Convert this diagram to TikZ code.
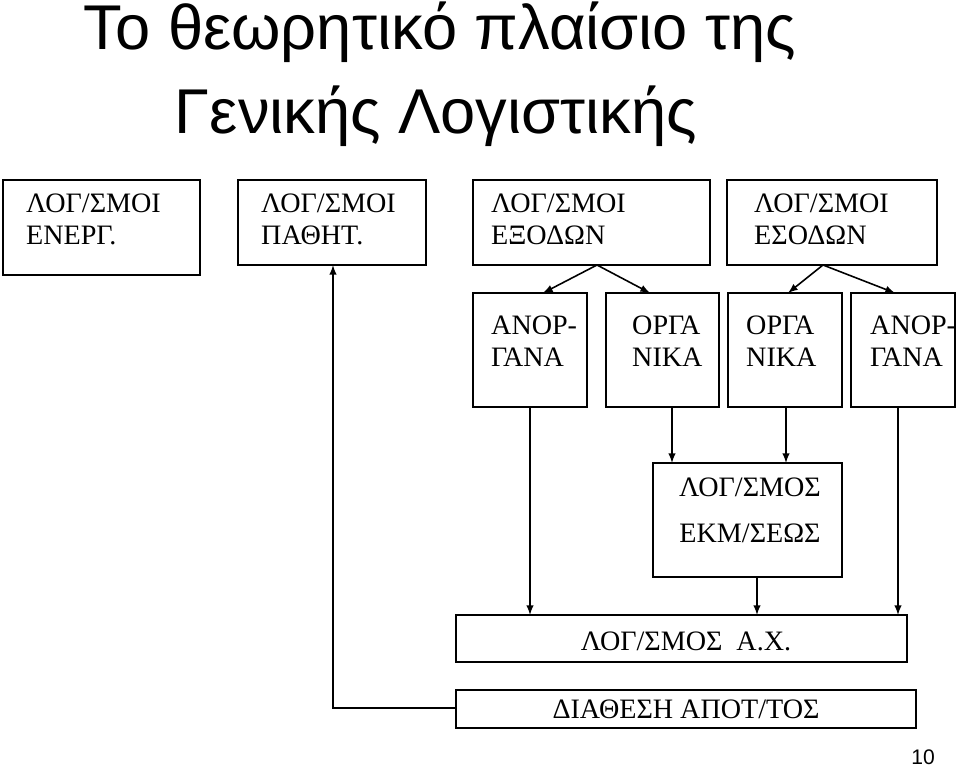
\documentclass[tikz,border=0pt]{standalone}
\usepackage{fontspec}
\setmainfont{Liberation Serif}
\newfontfamily\titlefont{Liberation Sans}
\usetikzlibrary{positioning}
\tikzset{
  acc/.style={draw,line width=0.9pt,inner sep=0pt},
  lbl/.style={font=\fontsize{16}{18}\selectfont,align=left,anchor=north west},
  flow/.style={line width=0.9pt,-latex}
}
\begin{document}
\begin{tikzpicture}[x=0.02cm,y=-0.02cm]
\useasboundingbox (0,0) rectangle (960,767);

\node[font=\titlefont\fontsize{36}{40}\selectfont] (t1) at (440,32) {Το θεωρητικό πλαίσιο της};
\node[font=\titlefont\fontsize{36}{40}\selectfont] (t2) at (436,116) {Γενικής Λογιστικής};

% top row
\draw[acc] (3,180) rectangle (200,275) coordinate (bA);
\node[lbl] at (20,188) {ΛΟΓ/ΣΜΟΙ\\ΕΝΕΡΓ.};
\draw[acc] (238,180) rectangle (426,265);
\coordinate (bP) at (333,265);
\node[lbl] at (255,188) {ΛΟΓ/ΣΜΟΙ\\ΠΑΘΗΤ.};
\draw[acc] (473,180) rectangle (710,265);
\coordinate (bE) at (597,265);
\node[lbl] at (485,188) {ΛΟΓ/ΣΜΟΙ\\ΕΞΟΔΩΝ};
\draw[acc] (727,180) rectangle (937,265);
\coordinate (bS) at (823,265);
\node[lbl] at (748,188) {ΛΟΓ/ΣΜΟΙ\\ΕΣΟΔΩΝ};

% second row
\draw[acc] (473,293) rectangle (587,407);
\node[lbl] at (485,310) {ΑΝΟΡ-\\ΓΑΝΑ};
\draw[acc] (606,293) rectangle (719,407);
\node[lbl] at (626,310) {ΟΡΓΑ\\ΝΙΚΑ};
\draw[acc] (728,293) rectangle (842,407);
\node[lbl] at (740,310) {ΟΡΓΑ\\ΝΙΚΑ};
\draw[acc] (851,293) rectangle (955,407);
\node[lbl] at (864,310) {ΑΝΟΡ-\\ΓΑΝΑ};

\draw[flow] (bE) -- (543,293);
\draw[flow] (bE) -- (650,293);
\draw[flow] (bS) -- (788,293);
\draw[flow] (bS) -- (895,293);

% lower boxes
\draw[acc] (653,463) rectangle (842,577);
\node[lbl,align=center,anchor=north] at (750,472) {ΛΟΓ/ΣΜΟΣ\\[8pt]ΕΚΜ/ΣΕΩΣ};
\draw[acc] (456,615) rectangle (907,662);
\node[lbl,anchor=north] at (686,626) {ΛΟΓ/ΣΜΟΣ\ \ Α.Χ.};
\draw[acc] (456,690) rectangle (916,728);
\node[lbl,anchor=north] at (686,694) {ΔΙΑΘΕΣΗ ΑΠΟΤ/ΤΟΣ};

\draw[flow] (672,407) -- (672,463);
\draw[flow] (786,407) -- (786,463);
\draw[flow] (530,407) -- (530,615);
\draw[flow] (757,577) -- (757,615);
\draw[flow] (898,407) -- (898,615);
\draw[flow] (456,708) -- (333,708) -- (bP);

\node[font=\titlefont\fontsize{12}{14}\selectfont] (pg) at (923,757) {10};
\end{tikzpicture}
\end{document}
